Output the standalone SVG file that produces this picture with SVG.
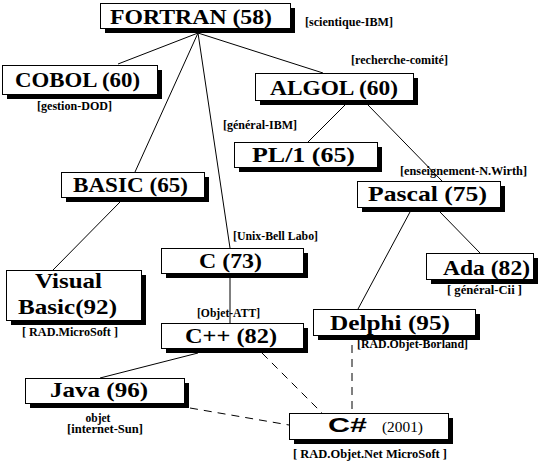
<svg xmlns="http://www.w3.org/2000/svg" width="551" height="464" viewBox="0 0 551 464">
<style>
.bg{fill:#fff}
.box{fill:#fff;stroke:#000;stroke-width:1}
.sh{fill:#000}
.t{font-family:"Liberation Serif","Times New Roman",serif;font-weight:bold;font-size:22px;fill:#000;text-anchor:middle}
.s{font-family:"Liberation Serif","Times New Roman",serif;font-weight:bold;font-size:11.5px;fill:#000;text-anchor:middle}
.ln{stroke:#000;stroke-width:1;fill:none}
.dl{stroke:#000;stroke-width:1;fill:none;stroke-dasharray:8 6}
</style>
<rect class="bg" x="0" y="0" width="551" height="464"/>
<g id="connectors">
<line class="ln" x1="198" y1="33" x2="118" y2="64"/>
<line class="ln" x1="198" y1="33" x2="323" y2="73"/>
<line class="ln" x1="198" y1="33" x2="135" y2="172"/>
<line class="ln" x1="198" y1="33" x2="230" y2="248"/>
<line class="ln" x1="345" y1="105" x2="308" y2="142"/>
<line class="ln" x1="368" y1="105" x2="442" y2="181"/>
<line class="ln" x1="410" y1="212" x2="358" y2="309"/>
<line class="ln" x1="440" y1="212" x2="480" y2="253"/>
<line class="ln" x1="120" y1="202" x2="53" y2="270"/>
<line class="ln" x1="230" y1="278" x2="230" y2="323"/>
<line class="ln" x1="198" y1="353" x2="100" y2="378"/>
<line class="dl" x1="262" y1="353" x2="322" y2="413"/>
<line class="dl" x1="190" y1="408" x2="289" y2="425"/>
<line class="dl" x1="352" y1="345" x2="352" y2="413"/>
</g>
<g id="fortran">
<rect class="sh" x="105" y="8" width="190" height="25"/>
<rect class="box" x="100.5" y="3.5" width="190" height="25"/>
<text class="t" x="191" y="24" font-size="24" textLength="162" lengthAdjust="spacingAndGlyphs">FORTRAN (58)</text>
<text class="s" x="349" y="26" textLength="88" lengthAdjust="spacingAndGlyphs">[scientique-IBM]</text>
</g>
<g id="cobol">
<rect class="sh" x="7" y="70" width="155" height="29"/>
<rect class="box" x="2.5" y="65.5" width="155" height="29"/>
<text class="t" x="77.5" y="87" textLength="125" lengthAdjust="spacingAndGlyphs">COBOL (60)</text>
<text class="s" x="74.5" y="110" textLength="75" lengthAdjust="spacingAndGlyphs">[gestion-DOD]</text>
</g>
<g id="algol">
<rect class="sh" x="260" y="78" width="158" height="27"/>
<rect class="box" x="255.5" y="73.5" width="158" height="27"/>
<text class="t" x="334" y="95" textLength="128" lengthAdjust="spacingAndGlyphs">ALGOL (60)</text>
<text class="s" x="399.5" y="64" textLength="97" lengthAdjust="spacingAndGlyphs">[recherche-comité]</text>
</g>
<g id="pl1">
<rect class="sh" x="239" y="147" width="143" height="25"/>
<rect class="box" x="234.5" y="142.5" width="143" height="25"/>
<text class="t" x="303.5" y="162" textLength="103" lengthAdjust="spacingAndGlyphs">PL/1 (65)</text>
<text class="s" x="260" y="129" textLength="74" lengthAdjust="spacingAndGlyphs">[général-IBM]</text>
</g>
<g id="pascal">
<rect class="sh" x="362" y="186" width="143" height="26"/>
<rect class="box" x="357.5" y="181.5" width="143" height="26"/>
<text class="t" x="427.5" y="201" textLength="119" lengthAdjust="spacingAndGlyphs">Pascal (75)</text>
<text class="s" x="463.5" y="175" textLength="127" lengthAdjust="spacingAndGlyphs">[enseignement-N.Wirth]</text>
</g>
<g id="basic">
<rect class="sh" x="66" y="177" width="143" height="25"/>
<rect class="box" x="61.5" y="172.5" width="143" height="25"/>
<text class="t" x="130.5" y="192" textLength="115" lengthAdjust="spacingAndGlyphs">BASIC (65)</text>
</g>
<g id="visualbasic">
<rect class="sh" x="11" y="275" width="135" height="50"/>
<rect class="box" x="6.5" y="270.5" width="135" height="50"/>
<text class="t" x="68.5" y="288" textLength="67" lengthAdjust="spacingAndGlyphs">Visual</text>
<text class="t" x="67.5" y="314" textLength="99" lengthAdjust="spacingAndGlyphs">Basic(92)</text>
<text class="s" x="70" y="336" textLength="96" lengthAdjust="spacingAndGlyphs">[ RAD.MicroSoft ]</text>
</g>
<g id="c">
<rect class="sh" x="166" y="253" width="142" height="25"/>
<rect class="box" x="161.5" y="248.5" width="142" height="25"/>
<text class="t" x="230.5" y="268" textLength="63" lengthAdjust="spacingAndGlyphs">C (73)</text>
<text class="s" x="275.5" y="240" textLength="85" lengthAdjust="spacingAndGlyphs">[Unix-Bell Labo]</text>
</g>
<g id="ada">
<rect class="sh" x="431" y="258" width="107" height="26"/>
<rect class="box" x="426.5" y="253.5" width="107" height="26"/>
<text class="t" x="486.5" y="275" textLength="87" lengthAdjust="spacingAndGlyphs">Ada (82)</text>
<text class="s" x="484.5" y="294" textLength="75" lengthAdjust="spacingAndGlyphs">[ général-Cii ]</text>
</g>
<g id="cpp">
<rect class="sh" x="166" y="328" width="142" height="25"/>
<rect class="box" x="161.5" y="323.5" width="142" height="25"/>
<text class="t" x="231" y="343" textLength="92" lengthAdjust="spacingAndGlyphs">C++ (82)</text>
<text class="s" x="228.5" y="317" textLength="63" lengthAdjust="spacingAndGlyphs">[Objet-ATT]</text>
</g>
<g id="delphi">
<rect class="sh" x="318" y="314" width="162" height="26"/>
<rect class="box" x="313.5" y="309.5" width="162" height="26"/>
<text class="t" x="390" y="330" textLength="120" lengthAdjust="spacingAndGlyphs">Delphi (95)</text>
<text class="s" x="412.5" y="348" textLength="111" lengthAdjust="spacingAndGlyphs">[RAD.Objet-Borland]</text>
</g>
<g id="java">
<rect class="sh" x="30" y="383" width="159" height="25"/>
<rect class="box" x="25.5" y="378.5" width="159" height="25"/>
<text class="t" x="99" y="397" textLength="98" lengthAdjust="spacingAndGlyphs">Java (96)</text>
<text class="s" x="98" y="422">objet</text>
<text class="s" x="105" y="433" textLength="76" lengthAdjust="spacingAndGlyphs">[internet-Sun]</text>
</g>
<g id="csharp">
<rect class="sh" x="294" y="418" width="159" height="26"/>
<rect class="box" x="289.5" y="413.5" width="159" height="26"/>
<text x="347.5" y="432" font-family="Liberation Sans, Arial, sans-serif" font-weight="bold" font-size="20" text-anchor="middle" textLength="39" lengthAdjust="spacingAndGlyphs">C#</text>
<text x="402.5" y="432" font-family="Liberation Serif, Times New Roman, serif" font-size="15" text-anchor="middle" textLength="41" lengthAdjust="spacingAndGlyphs">(2001)</text>
<text class="s" x="370" y="458" textLength="154" lengthAdjust="spacingAndGlyphs">[ RAD.Objet.Net MicroSoft ]</text>
</g>
</svg>
